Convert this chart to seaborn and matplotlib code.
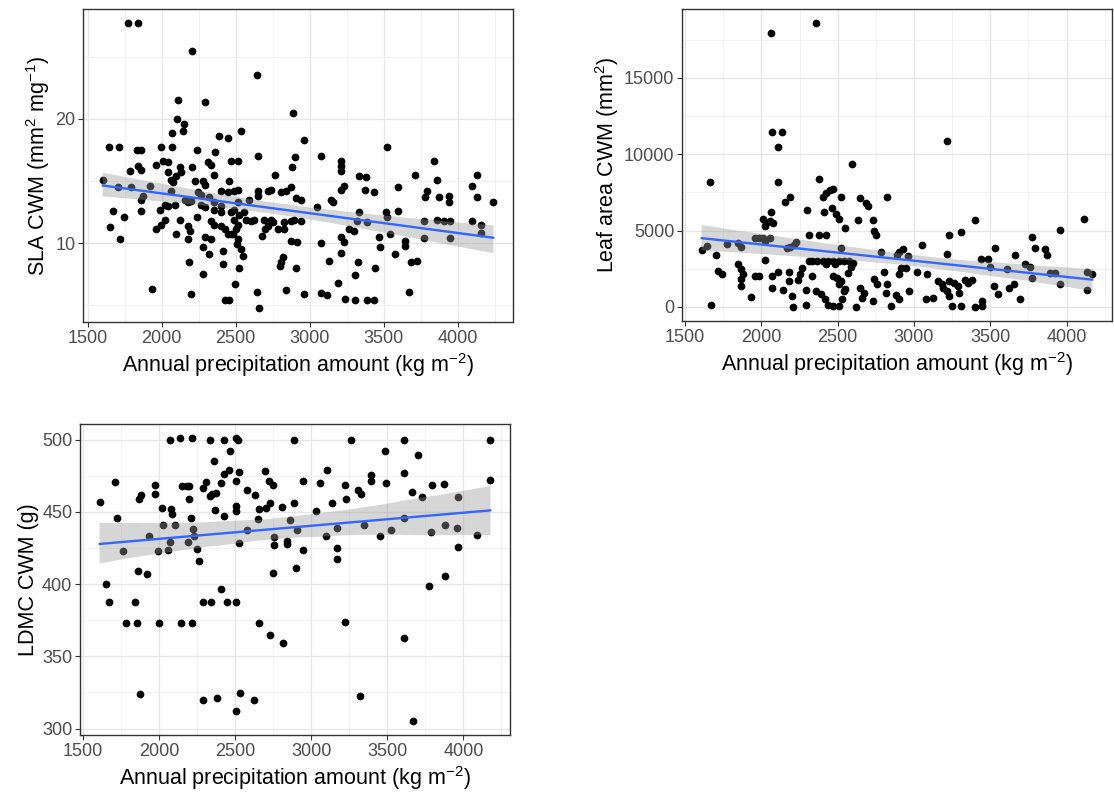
import numpy as np
import pandas as pd
import matplotlib
matplotlib.use("Agg")
import matplotlib.pyplot as plt
import seaborn as sns
from matplotlib.ticker import MultipleLocator
from matplotlib.collections import PolyCollection

# ---------------- data ----------------
sla_precip = [1774, 1841, 2205, 2642, 2113, 2290, 2891, 2104, 2151, 2144, 2072, 2537, 2963, 2391, 2447,
              1644, 1715, 1837, 1864, 1998, 2072, 2238, 2364, 2651, 3080, 3524, 3210, 3210, 3210, 3838,
              2469, 2519, 1964, 2009, 2043, 2312, 2335, 1841, 1864, 1785, 2207, 2122, 2133, 2099, 2355,
              2880, 2902, 2768, 3715, 3333, 3383, 4130, 3860, 1601, 2227, 2283, 2456, 2043, 2065, 2076,
              1920, 1706, 1796, 2294, 3232, 3210, 3598, 4097, 3371, 3434, 2651, 2716, 2739, 2806, 2840,
              2874, 2402, 2447, 2492, 2515, 2249, 2065, 3793, 3782, 3939, 3944, 4130, 3872, 4242, 3143,
              3159, 2907, 2941, 1874, 1864, 2155, 2178, 2200, 2267, 2323, 2357, 2402, 2593, 2651, 2088,
              2043, 1987, 2021, 2267, 2290, 2357, 2402, 2469, 2492, 2515, 2526, 3053, 1672, 1864, 1747,
              2238, 2559, 2570, 2604, 2627, 2694, 2739, 2750, 2829, 2874, 2896, 2941, 3333, 3322, 3389,
              3513, 3524, 3598, 3771, 3860, 3906, 3950, 4097, 4157, 4157, 1650, 2122, 2335, 2357, 2402,
              2425, 2447, 2469, 2492, 2515, 2503, 2021, 1998, 1964, 2178, 2189, 2178, 2099, 2290, 2335,
              2481, 2515, 2508, 2676, 2698, 2721, 2784, 2829, 2874, 2918, 3077, 3210, 3232, 3266, 3300,
              3472, 3475, 3546, 3643, 3647, 3771, 3950, 1717, 2280, 2323, 2537, 2548, 2414, 3214, 3580,
              2185, 2414, 2526, 2801, 2806, 2817, 2911, 3131, 3328, 3445, 3683, 3726, 2280, 3306, 2496,
              3190, 1935, 2645, 2840, 3672, 2196, 2963, 3075, 3120, 3237, 3306, 3389, 3434, 2425, 2458,
              2658]
sla_value = [27.7, 27.7, 25.5, 23.5, 21.5, 21.4, 20.5, 20.0, 19.6, 19.0, 18.9, 19.0, 18.3, 18.6, 18.5,
             17.7, 17.7, 17.5, 17.5, 17.7, 17.7, 17.5, 17.3, 17.0, 17.0, 17.7, 16.6, 16.2, 15.8, 16.6,
             16.6, 16.6, 16.3, 16.6, 16.5, 16.5, 16.3, 16.2, 15.9, 15.8, 16.1, 16.1, 15.7, 15.4, 15.5,
             16.1, 16.9, 15.5, 15.5, 15.4, 15.3, 15.5, 15.1, 15.1, 15.0, 15.0, 15.0, 15.7, 15.1, 14.9,
             14.6, 14.5, 14.5, 14.7, 14.6, 14.3, 14.5, 14.6, 14.3, 14.1, 14.2, 14.2, 14.3, 14.1, 14.2,
             14.5, 14.2, 14.1, 14.2, 14.3, 14.1, 14.2, 14.2, 13.7, 13.8, 13.3, 13.7, 13.7, 13.3, 13.5,
             13.3, 13.6, 13.5, 13.8, 13.5, 13.5, 13.3, 13.4, 13.9, 13.7, 13.3, 13.0, 13.5, 13.8, 13.1,
             13.0, 12.7, 13.1, 13.1, 12.9, 12.7, 12.5, 12.5, 12.7, 13.3, 12.3, 12.9, 12.6, 12.6, 12.1,
             12.1, 12.5, 11.9, 11.8, 11.9, 11.9, 11.9, 11.7, 11.7, 11.8, 11.9, 11.8, 12.5, 11.8, 11.7,
             12.5, 12.1, 12.6, 11.8, 11.9, 11.8, 11.8, 11.8, 11.5, 10.8, 11.3, 11.9, 11.8, 11.5, 11.4,
             11.1, 10.7, 10.7, 11.9, 11.5, 11.1, 11.9, 11.5, 11.1, 11.4, 11.0, 10.3, 10.7, 10.5, 10.3,
             10.7, 10.3, 9.9, 10.6, 11.1, 11.4, 11.1, 11.1, 10.2, 10.1, 10.0, 10.5, 10.1, 11.1, 11.0,
             10.5, 9.7, 10.7, 10.2, 9.8, 10.4, 10.4, 10.3, 9.7, 9.1, 9.55, 9.0, 9.4, 9.2, 9.1,
             8.5, 8.3, 8.0, 8.2, 8.5, 8.9, 8.0, 8.6, 8.5, 8.0, 8.5, 8.6, 7.5, 7.4, 6.7,
             6.8, 6.3, 6.1, 6.2, 6.1, 5.9, 5.9, 6.0, 5.8, 5.5, 5.4, 5.4, 5.4, 5.4, 5.4,
             4.8]

la_precip = [2063, 2356, 2072, 2137, 2105, 3216, 2595, 1660, 2105, 2379, 2151, 2188, 2402, 2425, 2449,
             2472, 2523, 2649, 2682, 2700, 2826, 2300, 2407, 2463, 2488, 2507, 2547, 2630, 2728, 2735,
             2751, 2063, 2007, 2030, 2054, 2026, 2077, 3402, 4112, 3960, 3305, 3230, 3774, 2309, 2374,
             2425, 3053, 3793, 3530, 3856, 3872, 3663, 3216, 2926, 2903, 2886, 2960, 2786, 2519, 1960,
             1983, 2007, 2054, 2026, 2228, 2216, 2188, 2170, 1774, 1844, 1863, 1607, 1640, 1700, 2021,
             1716, 1739, 1844, 1867, 1879, 1867, 1867, 1933, 1670, 1960, 1983, 2070, 2070, 2105, 2181,
             2181, 2139, 2198, 2209, 2240, 2251, 2263, 2293, 2291, 2314, 2332, 2367, 2402, 2437, 2472,
             2507, 2542, 2577, 2425, 2484, 2332, 2356, 2391, 2414, 2437, 2472, 2507, 2530, 2542, 2507,
             2495, 2472, 2519, 2547, 2570, 2588, 2600, 2621, 2649, 2672, 2661, 2733, 2740, 2758, 2805,
             2821, 2816, 2849, 2879, 2903, 2903, 2914, 2949, 2967, 3019, 3088, 3081, 3123, 3158, 3181,
             3193, 3216, 3228, 3251, 3228, 3263, 3286, 3298, 3309, 3333, 3356, 3379, 3398, 3449, 3449,
             3437, 3484, 3495, 3525, 3553, 3612, 3623, 3658, 3693, 3728, 3763, 3774, 3891, 3926, 3960,
             4135, 4170, 4135]
la_value = [17960, 18590, 11430, 11430, 10450, 10880, 9350, 8150, 8150, 8370, 6900, 7210, 7210, 7490, 7640,
            7710, 7210, 7120, 6830, 6610, 7210, 6350, 6240, 6460, 6110, 5740, 5150, 5670, 5670, 4970,
            4690, 6240, 5740, 5520, 5630, 5300, 5520, 5670, 5780, 5020, 4910, 4690, 4580, 4690, 4690,
            4690, 4050, 3880, 3830, 3770, 3390, 3390, 3480, 3770, 3610, 3390, 3330, 3610, 3830, 4530,
            4530, 4490, 4490, 4310, 4250, 4050, 3920, 3880, 4140, 4160, 3920, 3720, 3990, 3370, 3070,
            2340, 2120, 2780, 2450, 2120, 1800, 1360, 660, 110, 2010, 2010, 2010, 1250, 2300, 2300,
            1690, 1100, 740, 0, 1730, 2120, 2560, 150, 1070, 3000, 3000, 3000, 3000, 3000, 3000,
            3000, 3000, 3000, 2780, 2780, 2010, 1030, 810, 480, 150, 40, 40, 480, 1030, 1470,
            1910, 2010, 1690, 1140, 2230, 2610, 2890, 0, 1250, 920, 590, 370, 1800, 1470, 2300,
            1470, 920, 40, 770, 530, 2170, 2520, 2520, 1030, 2300, 2120, 480, 590, 1690, 1470,
            1250, 1030, 700, 40, 1690, 1580, 1360, 920, 40, 1730, 1580, 1730, 0, 370, 40,
            3110, 3110, 2610, 1360, 810, 2450, 1250, 1470, 480, 2780, 2610, 1910, 2230, 2230, 1470,
            2300, 2170, 1070]

ldmc_precip = [1609, 1652, 1671, 1710, 1721, 1765, 1782, 1841, 1852, 1863, 1869, 1884, 1873, 1923, 1932,
               1971, 1975, 1993, 2003, 2019, 2025, 2073, 2079, 2084, 2073, 2062, 2105, 2139, 2149, 2147,
               2181, 2199, 2199, 2210, 2192, 2216, 2216, 2225, 2232, 2247, 2264, 2286, 2307, 2290, 2344,
               2292, 2335, 2333, 2350, 2372, 2361, 2366, 2381, 2405, 2405, 2427, 2427, 2459, 2427, 2449,
               2503, 2466, 2507, 2518, 2507, 2507, 2507, 2507, 2524, 2524, 2529, 2579, 2579, 2624, 2631,
               2651, 2659, 2659, 2702, 2694, 2720, 2746, 2731, 2731, 2756, 2758, 2752, 2806, 2817, 2839,
               2839, 2860, 2889, 2887, 2908, 2900, 2947, 2947, 3030, 3056, 3095, 3104, 3138, 3169, 3171,
               3171, 3219, 3230, 3219, 3262, 3306, 3327, 3321, 3349, 3392, 3392, 3451, 3486, 3490, 3522,
               3609, 3609, 3609, 3609, 3664, 3701, 3729, 3670, 3787, 3776, 3794, 3874, 3881, 3876, 3963,
               3957, 3967, 4087, 4178, 4178]
ldmc_value = [456.9, 400.0, 387.7, 470.7, 445.5, 422.8, 372.9, 387.7, 372.9, 409.0, 458.8, 461.7, 323.6, 407.2, 433.6,
              468.4, 462.2, 422.8, 372.9, 452.6, 440.9, 500.0, 451.9, 448.5, 429.0, 423.3, 441.1, 501.1, 467.9, 372.9,
              467.9, 467.9, 459.2, 445.5, 429.0, 501.1, 372.9, 438.1, 433.6, 424.0, 416.0, 466.8, 470.7, 387.7, 387.7,
              319.5, 500.0, 461.0, 462.2, 463.3, 485.0, 451.2, 321.3, 396.9, 469.8, 500.0, 476.0, 479.0, 446.9, 387.7,
              387.7, 492.0, 501.1, 500.0, 471.4, 454.2, 450.7, 312.1, 477.5, 428.3, 324.7, 465.0, 437.7, 319.5, 461.5,
              445.0, 372.9, 451.9, 453.0, 478.2, 471.4, 468.4, 456.5, 364.8, 432.4, 427.4, 407.9, 453.5, 359.1, 429.7,
              427.8, 444.3, 500.0, 456.0, 437.5, 411.1, 471.4, 423.3, 450.3, 469.8, 433.1, 478.7, 456.0, 438.6, 424.9,
              417.1, 468.4, 459.2, 374.0, 500.0, 465.2, 462.2, 322.4, 440.9, 475.3, 471.4, 433.1, 492.0, 469.8, 437.5,
              500.0, 477.0, 445.5, 362.5, 463.8, 489.7, 460.4, 305.3, 435.9, 398.7, 468.4, 469.0, 441.1, 405.6, 460.4,
              438.8, 426.0, 434.2, 500.0, 471.8]

x_label = r"Annual precipitation amount (kg m$^{-2}$)"
y_labels = [r"SLA CWM (mm$^{2}$ mg$^{-1}$)", r"Leaf area CWM (mm$^{2}$)", "LDMC CWM (g)"]

# ---------------- style ----------------
sns.set_theme(style="white")
plt.rcParams["font.family"] = ["Liberation Sans", "DejaVu Sans"]
plt.rcParams["mathtext.fontset"] = "custom"
plt.rcParams["mathtext.rm"] = "Liberation Sans"
plt.rcParams["mathtext.it"] = "Liberation Sans:italic"
plt.rcParams["mathtext.bf"] = "Liberation Sans:bold"

fig = plt.figure(figsize=(11.14, 8.11), dpi=100)
W, H = 1114.0, 811.0
ax1 = fig.add_axes([83 / W, 1 - 322 / H, 430 / W, 313 / H])
ax2 = fig.add_axes([682 / W, 1 - 321 / H, 430 / W, 312 / H])
ax3 = fig.add_axes([80 / W, 1 - 735 / H, 430 / W, 311 / H])


def panel(ax, x, y, ymaj, ymin, ylabel):
    df = pd.DataFrame({"precip": x, "trait": y})
    ax.set_axisbelow(True)
    sns.scatterplot(data=df, x="precip", y="trait", ax=ax, color="black", s=31,
                    linewidth=0, zorder=3)
    sns.regplot(data=df, x="precip", y="trait", ax=ax, scatter=False, ci=95,
                color="#3366FF", line_kws={"lw": 1.7, "zorder": 5})
    for c in ax.collections:
        if isinstance(c, PolyCollection):
            c.set_alpha(None)
            c.set_facecolor((0.6, 0.6, 0.6, 0.4))
            c.set_edgecolor("none")
            c.set_zorder(4)
    xa, ya = np.asarray(x, float), np.asarray(y, float)
    xr, yr = xa.max() - xa.min(), ya.max() - ya.min()
    ax.set_xlim(xa.min() - 0.05 * xr, xa.max() + 0.05 * xr)
    ax.set_ylim(ya.min() - 0.05 * yr, ya.max() + 0.05 * yr)
    ax.xaxis.set_major_locator(MultipleLocator(500))
    ax.xaxis.set_minor_locator(MultipleLocator(250))
    ax.yaxis.set_major_locator(MultipleLocator(ymaj))
    ax.yaxis.set_minor_locator(MultipleLocator(ymin))
    ax.grid(which="major", color="#E6E6E6", lw=0.9)
    ax.grid(which="minor", color="#F0F0F0", lw=0.6)
    ax.tick_params(which="major", direction="out", length=3.5, width=0.8, color="#333333",
                   labelcolor="#4D4D4D", labelsize=13, pad=2, bottom=True, left=True)
    ax.tick_params(which="minor", length=0)
    for s in ax.spines.values():
        s.set_visible(True)
        s.set_color("#333333")
        s.set_linewidth(1.0)
    ax.set_xlabel(x_label, fontsize=15.5, color="black", labelpad=3)
    ax.set_ylabel(ylabel, fontsize=15.5, color="black", labelpad=2)


panel(ax1, sla_precip, sla_value, 10, 5, y_labels[0])
panel(ax2, la_precip, la_value, 5000, 2500, y_labels[1])
panel(ax3, ldmc_precip, ldmc_value, 50, 25, y_labels[2])

fig.savefig("out.png", dpi=100, facecolor="white")
